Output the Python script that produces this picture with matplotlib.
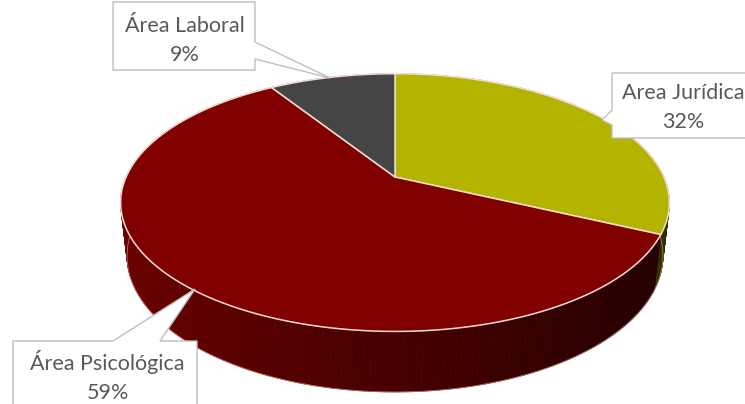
import numpy as np
import matplotlib
matplotlib.use("Agg")
import matplotlib.pyplot as plt
from matplotlib.patches import Polygon

# data (clockwise from 12 o'clock, as Excel draws it)
labels = ["Area Jurídica", "Área Psicológica", "Área Laboral"]
values = [32, 59, 9]
colors = ["#B2B400", "#800000", "#454545"]

W, H = 745, 404

# perspective camera fitted to the reference (pixel units)
CX, CY = 395.0, 177.0
F = 1202.0
DIST = 4.47
EL = np.radians(27.4)
S, C = np.sin(EL), np.cos(EL)
THICK = 0.224


def proj(x, y, z):
    depth = DIST + y * C - z * S
    sx = CX + F * x / depth
    sy = CY - F * (y * S + z * C) / depth
    return np.column_stack([sx, sy])


def rim(t, z=0.0):
    t = np.atleast_1d(t)
    return proj(np.sin(t), np.cos(t), np.full_like(t, z))


def shade(hexcol, k):
    rgb = np.array(matplotlib.colors.to_rgb(hexcol))
    return tuple(np.clip(rgb * k, 0, 1))


fig = plt.figure(figsize=(W / 100, H / 100), dpi=100)
ax = fig.add_axes([0, 0, 1, 1])
ax.set_xlim(0, W)
ax.set_ylim(H, 0)
ax.axis("off")

fracs = np.array(values, float) / sum(values)
bounds = np.concatenate([[0], np.cumsum(fracs)]) * 2 * np.pi

# side walls, drawn as thin quads from back to front
segs = []
for i, col in enumerate(colors):
    t = np.linspace(bounds[i], bounds[i + 1], max(int(fracs[i] * 360), 4) + 1)
    for a, b in zip(t[:-1], t[1:]):
        m = 0.5 * (a + b)
        segs.append((np.cos(m), a, b, m, col))
segs.sort(key=lambda s: -s[0])
for _, a, b, m, col in segs:
    k = 0.55 - 0.3 * np.sin(m)
    top = rim(np.array([a, b]))
    bot = rim(np.array([b, a]), -THICK)
    c = shade(col, k)
    ax.add_patch(Polygon(np.vstack([top, bot]), closed=True, fc=c, ec=c,
                         lw=0.6, zorder=1))

# bottom rim light edge (front half)
tb = np.linspace(np.pi / 2, 3 * np.pi / 2, 200)
ax.plot(*rim(tb, -THICK).T, color="#E8B8B0", lw=0.6, alpha=0.6, zorder=2)

# top faces
for i, col in enumerate(colors):
    t = np.linspace(bounds[i], bounds[i + 1], 200)
    pts = np.vstack([proj(np.array([0.0]), np.array([0.0]), np.array([0.0])), rim(t)])
    ax.add_patch(Polygon(pts, closed=True, fc=col, ec="#F4DCD2", lw=1.1,
                         joinstyle="round", zorder=3))

# callouts
TXT = "#595959"
BOX = "#BFBFBF"
font = dict(family=["Lato", "DejaVu Sans"], fontsize=15.5, color=TXT)

callouts = {
    "Área Laboral": [(113, 2), (255, 2), (255, 42), (330, 78), (255, 59),
                     (255, 70), (113, 70)],
    "Area Jurídica": [(612, 73), (760, 73), (760, 138), (612, 138), (612, 125),
                      (602, 120), (612, 110)],
    "Área Psicológica": [(13, 341), (113, 341), (195, 289), (160, 341),
                         (197, 341), (197, 420), (13, 420)],
}
# x centre, baseline of name line, baseline of percent line
text_pos = {
    "Área Laboral": (184.5, 32, 61),
    "Area Jurídica": (683, 99, 128),
    "Área Psicológica": (107.5, 370, 399),
}
for name, v in zip(labels, values):
    ax.add_patch(Polygon(callouts[name], closed=True, fc="white", ec=BOX,
                         lw=1.0, zorder=5))
    x, y1, y2 = text_pos[name]
    ax.text(x, y1, name, ha="center", va="baseline", zorder=6, **font)
    ax.text(x, y2, f"{v}%", ha="center", va="baseline", zorder=6, **font)

fig.savefig("out.png", dpi=100)
